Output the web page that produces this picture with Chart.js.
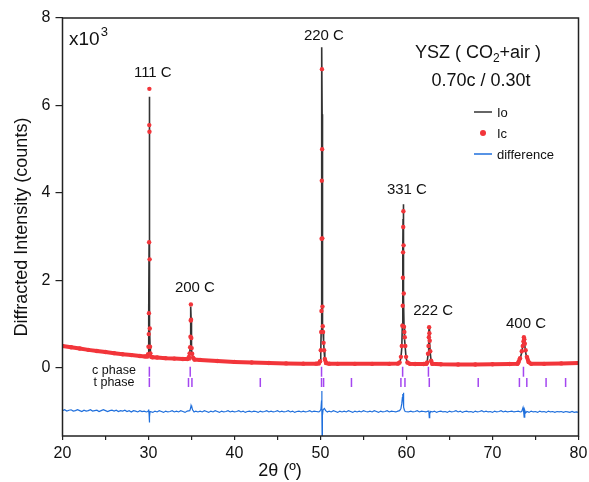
<!DOCTYPE html>
<html>
<head>
<meta charset="utf-8">
<script src="https://cdn.jsdelivr.net/npm/chart.js@4.4.0/dist/chart.umd.min.js"></script>
<style>
  html, body { margin: 0; padding: 0; background: #fff; }
  #wrap { width: 589px; height: 482px; }
</style>
</head>
<body>
<div id="wrap"><canvas id="xrdChart" width="589" height="482"></canvas></div>
<script>
// observed (Io) and calculated (Ic) intensities, x10^3 counts
const twoTheta = [20, 21, 22, 23, 24, 25, 26, 27, 28, 29, 29.6,
  29.85, 29.95, 30.00, 30.03, 30.05, 30.07, 30.09, 30.10, 30.11, 30.13, 30.15, 30.18, 30.22, 30.30, 30.45,
  31, 32, 33, 34, 34.5,
  34.60, 34.70, 34.78, 34.84, 34.88, 34.91, 34.93, 34.95, 34.98, 35.02, 35.08, 35.18, 35.35,
  36, 38, 40, 42, 44, 46, 48, 49.5,
  49.80, 49.95, 50.03, 50.08, 50.11, 50.13, 50.15, 50.17, 50.19, 50.21, 50.23, 50.26, 50.30, 50.36, 50.42, 50.50, 50.65,
  51, 52, 54, 56, 58, 59.0,
  59.20, 59.35, 59.45, 59.52, 59.56, 59.58, 59.60, 59.62, 59.64, 59.66, 59.68, 59.71, 59.75, 59.80, 59.86, 59.95, 60.10,
  60.4, 61, 62, 62.3,
  62.40, 62.50, 62.56, 62.60, 62.63, 62.66, 62.70, 62.76, 62.86,
  63, 64, 66, 68, 70, 72, 72.9,
  73.00, 73.20, 73.40, 73.52, 73.60, 73.65, 73.70, 73.76, 73.85, 74.00, 74.20,
  74.5, 76, 78, 80];
const io = [0.50, 0.47, 0.44, 0.41, 0.385, 0.36, 0.335, 0.31, 0.29, 0.27, 0.26,
  0.26, 0.30, 0.46, 0.80, 1.30, 2.90, 5.60, 6.20, 5.50, 2.50, 0.95, 0.50, 0.33, 0.25, 0.24,
  0.235, 0.22, 0.21, 0.20, 0.20,
  0.21, 0.24, 0.30, 0.45, 0.72, 1.10, 1.40, 1.15, 0.70, 0.42, 0.30, 0.22, 0.19,
  0.18, 0.155, 0.135, 0.12, 0.11, 0.10, 0.095, 0.095,
  0.10, 0.14, 0.35, 0.85, 1.80, 3.20, 5.50, 7.33, 5.80, 3.00, 1.50, 0.95, 0.80, 0.60, 0.38, 0.18, 0.11,
  0.095, 0.09, 0.09, 0.09, 0.09, 0.095,
  0.12, 0.22, 0.45, 1.00, 2.00, 2.70, 3.40, 3.74, 3.40, 2.60, 1.60, 0.95, 0.80, 0.65, 0.45, 0.22, 0.12,
  0.09, 0.085, 0.085, 0.09,
  0.12, 0.30, 0.50, 0.75, 0.95, 0.80, 0.60, 0.35, 0.15,
  0.09, 0.08, 0.075, 0.075, 0.08, 0.085, 0.09,
  0.12, 0.20, 0.35, 0.50, 0.65, 0.71, 0.62, 0.50, 0.35, 0.22, 0.12,
  0.09, 0.09, 0.10, 0.11];
const ic = [0.50, 0.47, 0.44, 0.41, 0.385, 0.36, 0.335, 0.31, 0.29, 0.27, 0.26,
  0.26, 0.31, 0.48, 0.77, 1.25, 2.87, 5.55, 6.38, 5.40, 2.48, 0.90, 0.48, 0.33, 0.25, 0.24,
  0.235, 0.22, 0.21, 0.20, 0.20,
  0.21, 0.25, 0.33, 0.47, 0.71, 1.08, 1.45, 1.10, 0.68, 0.45, 0.32, 0.23, 0.19,
  0.18, 0.155, 0.135, 0.12, 0.11, 0.10, 0.095, 0.095,
  0.10, 0.15, 0.40, 0.82, 1.30, 2.95, 4.28, 6.83, 5.00, 2.96, 1.40, 0.95, 0.82, 0.57, 0.40, 0.20, 0.11,
  0.095, 0.09, 0.09, 0.09, 0.09, 0.095,
  0.12, 0.25, 0.50, 0.96, 1.42, 2.06, 2.64, 3.22, 3.58, 2.80, 1.70, 0.94, 0.82, 0.70, 0.50, 0.25, 0.12,
  0.09, 0.085, 0.085, 0.09,
  0.12, 0.32, 0.50, 0.70, 0.93, 0.79, 0.62, 0.38, 0.16,
  0.09, 0.08, 0.075, 0.075, 0.08, 0.085, 0.09,
  0.12, 0.22, 0.38, 0.50, 0.60, 0.70, 0.65, 0.55, 0.40, 0.25, 0.13,
  0.09, 0.09, 0.10, 0.11];

// difference curve (offset below zero)
const diffTheta = [20, 20.25, 20.5, 20.75, 21, 21.25, 21.5, 21.75, 22, 22.25, 22.5, 22.75, 23, 23.25, 23.5, 23.75,
  24, 24.25, 24.5, 24.75, 25, 25.25, 25.5, 25.75, 26, 26.25, 26.5, 26.75, 27, 27.25, 27.5, 27.75,
  28, 28.25, 28.5, 28.75, 29, 29.25, 29.5, 29.75, 29.9,
  30.02, 30.07, 30.10, 30.13, 30.18, 30.5, 30.75, 31, 31.25, 31.5, 31.75, 32, 32.25, 32.5, 32.75, 33, 33.25, 33.5, 33.75, 34, 34.25, 34.5, 34.8,
  34.9, 34.95, 35.0, 35.05, 35.12, 35.3, 35.5, 35.75, 36, 36.25, 36.5, 36.75, 37, 37.25, 37.5, 37.75, 38, 38.25, 38.5, 38.75,
  39, 39.25, 39.5, 39.75, 40, 40.25, 40.5, 40.75, 41, 41.25, 41.5, 41.75,
  42, 42.25, 42.5, 42.75, 43, 43.25, 43.5, 43.75, 44, 44.25, 44.5, 44.75, 45, 45.25, 45.5, 45.75,
  46, 46.25, 46.5, 46.75, 47, 47.25, 47.5, 47.75, 48, 48.25, 48.5, 48.75, 49, 49.25, 49.5, 49.75, 49.9,
  50.05, 50.12, 50.15, 50.17, 50.19, 50.22, 50.30, 50.45, 50.6, 50.8, 51, 51.25, 51.5, 51.75, 52, 52.25, 52.5, 52.75,
  53, 53.25, 53.5, 53.75, 54, 54.25, 54.5, 54.75,
  55, 55.25, 55.5, 55.75, 56, 56.25, 56.5, 56.75, 57, 57.25, 57.5, 57.75, 58, 58.25, 58.5, 58.75, 59, 59.2,
  59.35, 59.45, 59.52, 59.57, 59.6, 59.63, 59.66, 59.7, 59.76, 59.85,
  60.2, 60.5, 60.75, 61, 61.25, 61.5, 61.75, 62, 62.25, 62.5, 62.6, 62.65, 62.7, 62.8, 63, 63.25, 63.5, 63.75,
  64, 64.25, 64.5, 64.75, 65, 65.25, 65.5, 65.75, 66, 66.25, 66.5, 66.75,
  67, 67.25, 67.5, 67.75, 68, 68.25, 68.5, 68.75, 69, 69.25, 69.5, 69.75, 70, 70.25, 70.5, 70.75,
  71, 71.25, 71.5, 71.75, 72, 72.25, 72.5, 72.75, 73, 73.25, 73.4, 73.55, 73.62, 73.68, 73.75,
  73.85, 74, 74.25, 74.5, 74.75, 75, 75.25, 75.5, 75.75, 76, 76.25, 76.5, 76.75, 77, 77.25, 77.5, 77.75,
  78, 78.25, 78.5, 78.75, 79, 79.25, 79.5, 79.75, 80];
const diff = [-0.98, -0.96, -0.99, -0.97, -0.96, -0.99, -0.98, -0.96, -0.98, -1.00, -0.97, -0.99, -0.98, -0.96, -0.99, -0.98,
  -0.97, -1.00, -0.98, -0.96, -0.98, -1.00, -0.98, -0.97, -0.99, -0.97, -1.00, -0.98, -0.99, -0.97, -1.00, -0.98,
  -1.01, -0.98, -0.99, -1.01, -0.98, -1.00, -0.99, -1.01, -1.00,
  -0.97, -1.06, -1.25, -1.12, -1.00, -1.02, -0.99, -1.01, -0.98, -1.00, -1.02, -0.99, -1.01, -1.00, -0.98, -1.01, -0.99, -1.01, -0.98, -1.00, -1.02, -0.99, -0.98,
  -0.92, -0.86, -0.90, -0.88, -0.96, -1.01, -0.99, -1.01, -0.99, -1.01, -0.98, -1.00, -1.02, -0.99, -1.01, -0.98, -1.00, -1.02, -0.99, -1.01,
  -1.00, -0.98, -1.01, -0.99, -1.01, -1.00, -0.98, -1.01, -0.99, -1.02, -1.00, -0.99,
  -1.01, -0.99, -1.00, -1.02, -0.99, -1.01, -1.00, -0.98, -1.01, -0.99, -1.01, -1.00, -0.98, -1.01, -0.99, -1.01,
  -1.00, -0.98, -1.01, -0.99, -1.02, -1.00, -0.99, -1.01, -0.99, -1.01, -1.00, -0.98, -1.01, -0.99, -1.00, -1.01, -1.00,
  -0.95, -0.75, -0.53, -1.00, -1.70, -1.10, -0.96, -0.93, -0.98, -1.01, -0.99, -1.01, -0.98, -1.00, -1.02, -0.99, -1.01, -0.99,
  -1.01, -0.98, -1.00, -1.02, -0.99, -1.01, -0.99, -1.01,
  -0.98, -1.00, -1.01, -0.99, -1.01, -0.98, -1.00, -1.02, -0.99, -1.01, -1.00, -0.98, -1.01, -0.99, -1.00, -1.01, -0.99, -0.98,
  -0.93, -0.82, -0.68, -0.60, -0.66, -0.57, -0.72, -0.90, -0.97, -1.00,
  -1.01, -0.99, -1.01, -1.00, -0.98, -1.01, -0.99, -1.00, -1.01, -0.99, -0.98, -1.14, -1.05, -1.00, -1.01, -0.99, -1.02, -1.00,
  -0.99, -1.01, -1.00, -1.02, -0.99, -1.01, -1.00, -0.98, -1.01, -0.99, -1.02, -1.00,
  -0.99, -1.01, -1.00, -1.02, -0.99, -1.01, -1.00, -0.98, -1.01, -0.99, -1.01, -1.00, -1.02, -0.99, -1.01, -1.00,
  -0.98, -1.01, -0.99, -1.01, -1.00, -0.99, -1.01, -1.00, -0.99, -1.01, -1.00, -0.91, -1.00, -1.13, -0.97,
  -1.03, -1.00, -1.02, -0.99, -1.01, -1.00, -1.02, -0.99, -1.01, -1.00, -1.02, -0.99, -1.01, -1.00, -1.02, -1.00, -1.01,
  -1.00, -1.02, -1.00, -1.01, -1.02, -1.00, -1.02, -1.01, -1.02];

// phase reflection markers
const cPhase = [30.1, 34.85, 50.12, 59.55, 62.55, 73.6];
const tPhase = [30.1, 34.65, 35.05, 43.0, 50.12, 50.36, 53.6, 59.35, 59.82, 62.65, 68.34, 73.13, 73.99, 76.23, 78.5];

// peak labels
const peakNames = ["111 C", "200 C", "220 C", "331 C", "222 C", "400 C"];
const peakLabelX = [30.5, 35.4, 50.4, 60.05, 63.1, 73.9];
const peakLabelY = [6.64, 1.73, 7.49, 3.97, 1.21, 0.91];

const yTicks = [0, 2, 4, 6, 8];

const FONT = "'Liberation Sans', Arial, sans-serif";
const RED = "#f2353a";
const BLUE = "#1f6fdc";
const PURPLE = "#a446f0";

const annotate = {
  id: "annotate",
  afterDraw(chart) {
    const ctx = chart.ctx;
    const area = chart.chartArea;
    const xs = chart.scales.x, ys = chart.scales.y;
    ctx.save();
    // frame
    ctx.strokeStyle = "#222";
    ctx.lineWidth = 1.5;
    ctx.strokeRect(area.left, area.top, area.right - area.left, area.bottom - area.top);

    ctx.fillStyle = "#111";
    ctx.textBaseline = "alphabetic";

    // x10^3
    ctx.textAlign = "left";
    ctx.font = "19px " + FONT;
    ctx.fillText("x10", 69, 45);
    let w = ctx.measureText("x10").width;
    ctx.font = "13px " + FONT;
    ctx.fillText("3", 69 + w + 1, 36);

    // sample title
    const a = "YSZ ( CO", c = "+air )";
    ctx.font = "18px " + FONT;
    const wa = ctx.measureText(a).width, wc = ctx.measureText(c).width;
    ctx.font = "12px " + FONT;
    const wb = ctx.measureText("2").width;
    let sx = 478 - (wa + wb + wc) / 2;
    ctx.font = "18px " + FONT;
    ctx.fillText(a, sx, 58);
    ctx.font = "12px " + FONT;
    ctx.fillText("2", sx + wa, 62);
    ctx.font = "18px " + FONT;
    ctx.fillText(c, sx + wa + wb, 58);
    ctx.textAlign = "center";
    ctx.fillText("0.70c / 0.30t", 481, 86);

    // legend
    ctx.textAlign = "left";
    ctx.font = "13px " + FONT;
    ctx.lineWidth = 1.5;
    ctx.strokeStyle = "#333";
    ctx.beginPath(); ctx.moveTo(474, 112); ctx.lineTo(492, 112); ctx.stroke();
    ctx.fillText("Io", 497, 117);
    ctx.fillStyle = RED;
    ctx.beginPath(); ctx.arc(483, 133, 3, 0, Math.PI * 2); ctx.fill();
    ctx.fillStyle = "#111";
    ctx.fillText("Ic", 497, 138);
    ctx.strokeStyle = BLUE;
    ctx.beginPath(); ctx.moveTo(474, 154); ctx.lineTo(492, 154); ctx.stroke();
    ctx.fillText("difference", 497, 159);

    // peak labels
    ctx.textAlign = "center";
    ctx.font = "15px " + FONT;
    peakNames.forEach((n, i) => {
      ctx.fillText(n, xs.getPixelForValue(peakLabelX[i]), ys.getPixelForValue(peakLabelY[i]));
    });

    // phase row labels
    ctx.font = "12.5px " + FONT;
    ctx.fillText("c phase", 114, 374);
    ctx.fillText("t phase", 114, 386);

    // x axis title
    ctx.font = "18px " + FONT;
    ctx.fillText("2\u03B8 (\u00BA)", 280, 476);
    ctx.restore();
  }
};

new Chart(document.getElementById("xrdChart"), {
  type: "scatter",
  data: {
    datasets: [
      {
        label: "Ic",
        data: twoTheta.map((x, i) => ({ x: x, y: ic[i] })),
        showLine: true,
        borderColor: RED,
        backgroundColor: RED,
        borderWidth: 4,
        pointRadius: 2.2,
        pointBorderWidth: 0,
        order: 1,
        segment: {
          borderColor: s => Math.abs(s.p1.y - s.p0.y) > 4 * Math.abs(s.p1.x - s.p0.x) ? "rgba(0,0,0,0)" : RED
        }
      },
      {
        label: "Io",
        data: twoTheta.map((x, i) => ({ x: x, y: io[i] })),
        showLine: true,
        borderColor: "#333",
        borderWidth: 1.6,
        pointRadius: 0,
        order: 2
      },
      {
        label: "difference",
        data: diffTheta.map((x, i) => ({ x: x, y: diff[i] })),
        showLine: true,
        borderColor: BLUE,
        borderWidth: 1.2,
        pointRadius: 0,
        order: 3
      },
      {
        label: "c phase",
        data: cPhase.map(x => ({ x: x, y: -0.09 })),
        pointStyle: "line",
        rotation: 90,
        pointRadius: 5,
        borderColor: PURPLE,
        borderWidth: 1.5,
        order: 4
      },
      {
        label: "t phase",
        data: tPhase.map(x => ({ x: x, y: -0.335 })),
        pointStyle: "line",
        rotation: 90,
        pointRadius: 4.5,
        borderColor: PURPLE,
        borderWidth: 1.5,
        order: 4
      }
    ]
  },
  options: {
    responsive: false,
    animation: false,
    layout: { padding: { top: 18, right: 10.5, left: 0, bottom: 0 } },
    plugins: { legend: { display: false }, tooltip: { enabled: false } },
    scales: {
      x: {
        min: 20, max: 80,
        border: { display: false },
        grid: { drawOnChartArea: false, tickLength: 4, color: "#222", lineWidth: 1.2 },
        ticks: {
          stepSize: 5, autoSkip: false, maxRotation: 0, padding: 4,
          color: "#111", font: { size: 16, family: FONT },
          callback: v => (v % 10 === 0 ? v : "")
        },
        afterFit: s => { s.height = 46; s.paddingLeft = 0; s.paddingRight = 0; }
      },
      y: {
        min: -1.56, max: 8,
        border: { display: false },
        grid: { drawOnChartArea: false, tickLength: 7, color: "#222", lineWidth: 1.2 },
        ticks: { color: "#111", padding: 5, font: { size: 16, family: FONT } },
        afterBuildTicks: s => { s.ticks = yTicks.map(v => ({ value: v })); },
        title: {
          display: true, text: "Diffracted Intensity (counts)",
          color: "#111", font: { size: 18, family: FONT }, padding: { top: 11, bottom: 0 }
        },
        afterFit: s => { s.width = 62.5; s.paddingTop = 0; s.paddingBottom = 0; }
      }
    }
  },
  plugins: [annotate]
});
</script>
</body>
</html>
